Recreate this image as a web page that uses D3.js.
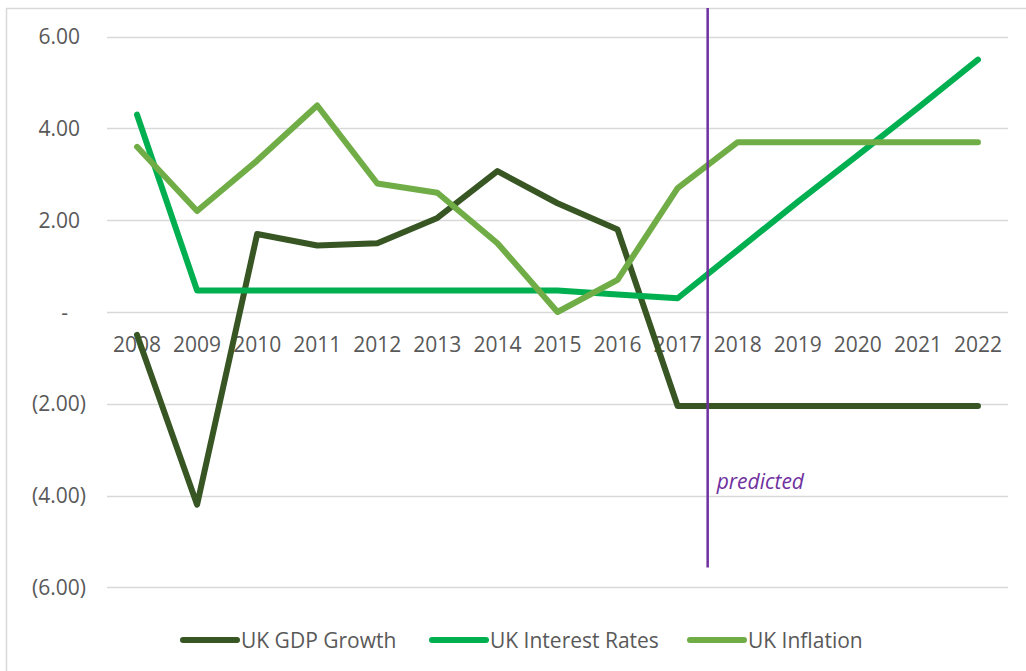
<!DOCTYPE html>
<html>
<head>
<meta charset="utf-8">
<script src="https://cdn.jsdelivr.net/npm/d3@7"></script>
<style>
  html, body { margin: 0; padding: 0; background: #ffffff; }
  svg { display: block; }
</style>
</head>
<body>
<svg id="chart" width="1026" height="671"></svg>
<script>
// UK economic indicators, 2008–2022 (2018 onwards predicted)
const years = ["2008","2009","2010","2011","2012","2013","2014","2015","2016","2017","2018","2019","2020","2021","2022"];
const gdpGrowth     = [-0.5, -4.2, 1.7, 1.45, 1.5, 2.05, 3.07, 2.37, 1.8, -2.05, -2.05, -2.05, -2.05, -2.05, -2.05];
const interestRates = [4.3, 0.47, 0.47, 0.47, 0.47, 0.47, 0.47, 0.47, 0.38, 0.3, 1.35, 2.4, 3.42, 4.45, 5.5];
const inflation     = [3.6, 2.2, 3.3, 4.5, 2.8, 2.6, 1.5, 0.0, 0.7, 2.7, 3.7, 3.7, 3.7, 3.7, 3.7];
const seriesNames   = ["UK GDP Growth", "UK Interest Rates", "UK Inflation"];
const yTicks        = [6, 4, 2, 0, -2, -4, -6];
const predictedFrom = "2018";
const predictedLabel = "predicted";

const colors = ["#375623", "#00B050", "#70AD47"];
const purple = "#7030A0";
const textColor = "#595959";
const font = "'Open Sans', 'Liberation Sans', sans-serif";

const svg = d3.select("#chart");

// chart frame (left and top edges visible, the rest runs off the canvas)
svg.append("rect")
  .attr("x", 6.5).attr("y", 8.5)
  .attr("width", 1100).attr("height", 700)
  .attr("fill", "#ffffff")
  .attr("stroke", "#d9d9d9")
  .attr("stroke-width", 1.5);

const plot = { left: 107, right: 1008, top: 36.7, bottom: 587.3 };

const x = d3.scaleBand().domain(years).range([plot.left, plot.right]).padding(0);
const y = d3.scaleLinear().domain([-6, 6]).range([plot.bottom, plot.top]);
const cx = d => x(d) + x.bandwidth() / 2;

// horizontal gridlines
svg.append("g")
  .selectAll("line")
  .data(yTicks)
  .join("line")
  .attr("x1", plot.left).attr("x2", plot.right)
  .attr("y1", d => Math.round(y(d)) + 0.5)
  .attr("y2", d => Math.round(y(d)) + 0.5)
  .attr("stroke", "#d9d9d9")
  .attr("stroke-width", 1.3);

// y axis labels in accounting style
const yFmt = d3.format(".2f");
const yAxis = svg.append("g").attr("font-family", font).attr("font-size", 21).attr("fill", textColor);
yAxis.selectAll("text")
  .data(yTicks)
  .join("text")
  .attr("x", d => d < 0 ? 86 : (d === 0 ? 68 : 80))
  .attr("y", d => y(d))
  .attr("dy", "0.36em")
  .attr("text-anchor", "end")
  .text(d => d === 0 ? "-" : (d < 0 ? "(" + yFmt(-d) + ")" : yFmt(d)));

// x axis category labels under the zero line
const xAxis = d3.axisBottom(x).tickSize(0).tickPadding(0);
const xg = svg.append("g")
  .attr("transform", `translate(0, ${y(0) + 40})`)
  .call(xAxis);
xg.select(".domain").remove();
xg.selectAll("text")
  .attr("font-family", font)
  .attr("font-size", 21)
  .attr("fill", textColor)
  .attr("dy", 0);

// series lines
const allSeries = [gdpGrowth, interestRates, inflation];
const line = d3.line()
  .x((d, i) => cx(years[i]))
  .y(d => y(d));

svg.append("g")
  .selectAll("path")
  .data(allSeries)
  .join("path")
  .attr("d", d => line(d))
  .attr("fill", "none")
  .attr("stroke", (d, i) => colors[i])
  .attr("stroke-width", 6)
  .attr("stroke-linejoin", "round")
  .attr("stroke-linecap", "round");

// predicted marker
const px = x(predictedFrom);
svg.append("line")
  .attr("x1", px).attr("x2", px)
  .attr("y1", 8).attr("y2", y(-5.57))
  .attr("stroke", purple)
  .attr("stroke-width", 2.5);
svg.append("text")
  .attr("x", px + 9)
  .attr("y", 489)
  .attr("font-family", font)
  .attr("font-style", "italic")
  .attr("font-size", 21)
  .attr("fill", purple)
  .text(predictedLabel);

// legend
const legendX = [183, 432, 690];
const legendY = 640;
const lg = svg.append("g").selectAll("g")
  .data(seriesNames)
  .join("g")
  .attr("transform", (d, i) => `translate(${legendX[i]}, ${legendY})`);
lg.append("line")
  .attr("x1", 0).attr("x2", 54)
  .attr("stroke", (d, i) => colors[i])
  .attr("stroke-width", 6)
  .attr("stroke-linecap", "round");
lg.append("text")
  .attr("x", 58)
  .attr("dy", "0.36em")
  .attr("font-family", font)
  .attr("font-size", 21)
  .attr("fill", textColor)
  .text(d => d);
</script>
</body>
</html>
